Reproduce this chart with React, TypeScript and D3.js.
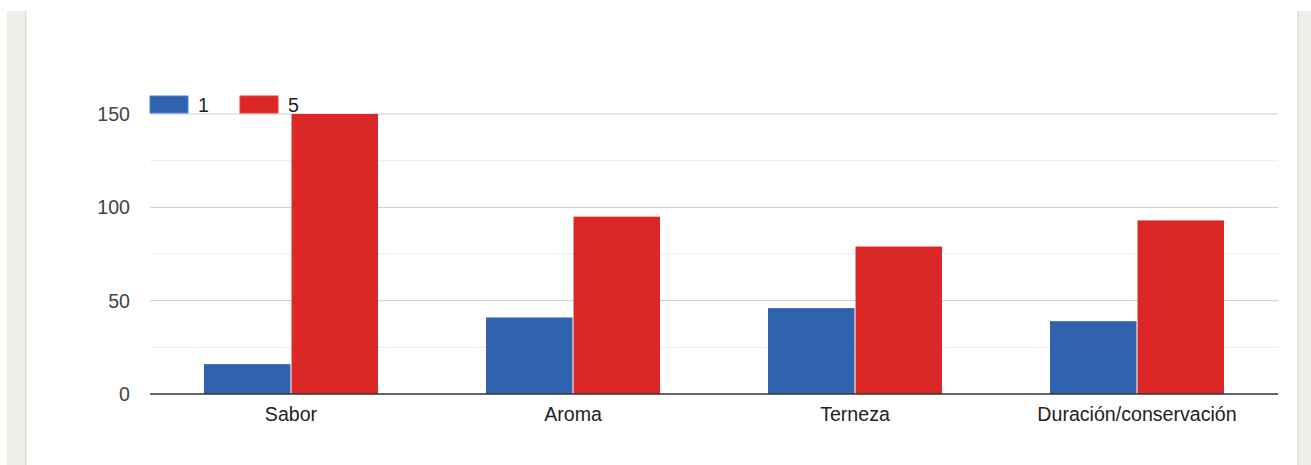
import * as d3 from "d3"
import { useEffect, useRef } from "react"

const categories = ["Sabor", "Aroma", "Terneza", "Duración/conservación"]
const seriesNames = ["1", "5"]
const series1 = [16, 41, 46, 39]
const series5 = [150, 95, 79, 93]
const yTicks = [0, 50, 100, 150]
const yMinorTicks = [25, 75, 125]
const colors = ["#3162ae", "#db2826"]

export default function App() {
    const svgRef = useRef<SVGSVGElement>(null)

    useEffect(() => {
        if (!svgRef.current) return
        const svg = d3.select(svgRef.current)
        svg.selectAll("*").remove()

        const width = 1311
        const height = 465
        const margin = { top: 114, right: 33, bottom: 71, left: 150 }
        const font = "'Liberation Sans', Arial, sans-serif"
        const fontSize = 19.6

        // page panels
        svg.append("rect").attr("x", 0).attr("y", 0).attr("width", width).attr("height", height).attr("fill", "#fff")
        svg.append("rect").attr("x", 7).attr("y", 11).attr("width", 18).attr("height", height - 11).attr("fill", "#efeee8")
        svg.append("rect").attr("x", 25).attr("y", 11).attr("width", 1.5).attr("height", height - 11).attr("fill", "#dddddd")
        svg.append("rect").attr("x", 1297).attr("y", 11).attr("width", 2).attr("height", height - 11).attr("fill", "#e2e2e2")
        svg.append("rect").attr("x", 1299).attr("y", 11).attr("width", 12).attr("height", height - 11).attr("fill", "#efeee8")

        const x0 = d3
            .scaleBand<string>()
            .domain(categories)
            .range([margin.left, width - margin.right])
            .paddingInner(0.383)
            .paddingOuter(0.1915)

        const x1 = d3
            .scaleBand<string>()
            .domain(seriesNames)
            .range([0, x0.bandwidth()])
            .paddingInner(0.012)

        const y = d3
            .scaleLinear()
            .domain([0, 150])
            .range([height - margin.bottom, margin.top])

        // minor grid
        svg
            .append("g")
            .selectAll("line")
            .data(yMinorTicks)
            .join("line")
            .attr("x1", margin.left)
            .attr("x2", width - margin.right)
            .attr("y1", (d) => y(d))
            .attr("y2", (d) => y(d))
            .attr("stroke", "#ebebeb")
            .attr("stroke-width", 1)

        // major grid
        svg
            .append("g")
            .selectAll("line")
            .data(yTicks.filter((t) => t > 0))
            .join("line")
            .attr("x1", margin.left)
            .attr("x2", width - margin.right)
            .attr("y1", (d) => y(d))
            .attr("y2", (d) => y(d))
            .attr("stroke", "#cccccc")
            .attr("stroke-width", 1)

        // y labels
        svg
            .append("g")
            .selectAll("text")
            .data(yTicks)
            .join("text")
            .attr("x", margin.left - 20)
            .attr("y", (d) => y(d))
            .attr("dy", "0.36em")
            .attr("text-anchor", "end")
            .attr("font-family", font)
            .attr("font-size", fontSize)
            .attr("fill", "#444")
            .text((d) => d)

        // bars
        const values = [series1, series5]
        const groups = svg
            .append("g")
            .selectAll("g")
            .data(categories)
            .join("g")
            .attr("transform", (d) => `translate(${x0(d)},0)`)

        groups
            .selectAll("rect")
            .data((_, i) => seriesNames.map((s, k) => ({ s, k, v: values[k][i] })))
            .join("rect")
            .attr("x", (d) => x1(d.s)!)
            .attr("y", (d) => y(d.v))
            .attr("width", x1.bandwidth())
            .attr("height", (d) => y(0) - y(d.v))
            .attr("fill", (d) => colors[d.k])

        // baseline
        svg
            .append("line")
            .attr("x1", margin.left)
            .attr("x2", width - margin.right)
            .attr("y1", y(0))
            .attr("y2", y(0))
            .attr("stroke", "#333")
            .attr("stroke-width", 1.5)

        // x labels
        svg
            .append("g")
            .selectAll("text")
            .data(categories)
            .join("text")
            .attr("x", (d) => x0(d)! + x0.bandwidth() / 2)
            .attr("y", 421)
            .attr("text-anchor", "middle")
            .attr("font-family", font)
            .attr("font-size", fontSize)
            .attr("fill", "#222")
            .text((d) => d)

        // legend
        const legend = svg
            .append("g")
            .selectAll("g")
            .data(seriesNames)
            .join("g")
            .attr("transform", (_, i) => `translate(${150 + i * 90},96)`)

        legend
            .append("rect")
            .attr("width", 38)
            .attr("height", 17)
            .attr("fill", (_, i) => colors[i])
            .attr("stroke", (_, i) => d3.color(colors[i])!.brighter(0.8).toString())
            .attr("stroke-width", 1)

        legend
            .append("text")
            .attr("x", 48)
            .attr("y", 8.5)
            .attr("dy", "0.36em")
            .attr("font-family", font)
            .attr("font-size", fontSize)
            .attr("fill", "#222")
            .text((d) => d)
    }, [])

    return (
        <svg
            ref={svgRef}
            width={1311}
            height={465}
            viewBox="0 0 1311 465"
            style={{ position: "absolute", left: 0, top: 0 }}
        />
    )
}
